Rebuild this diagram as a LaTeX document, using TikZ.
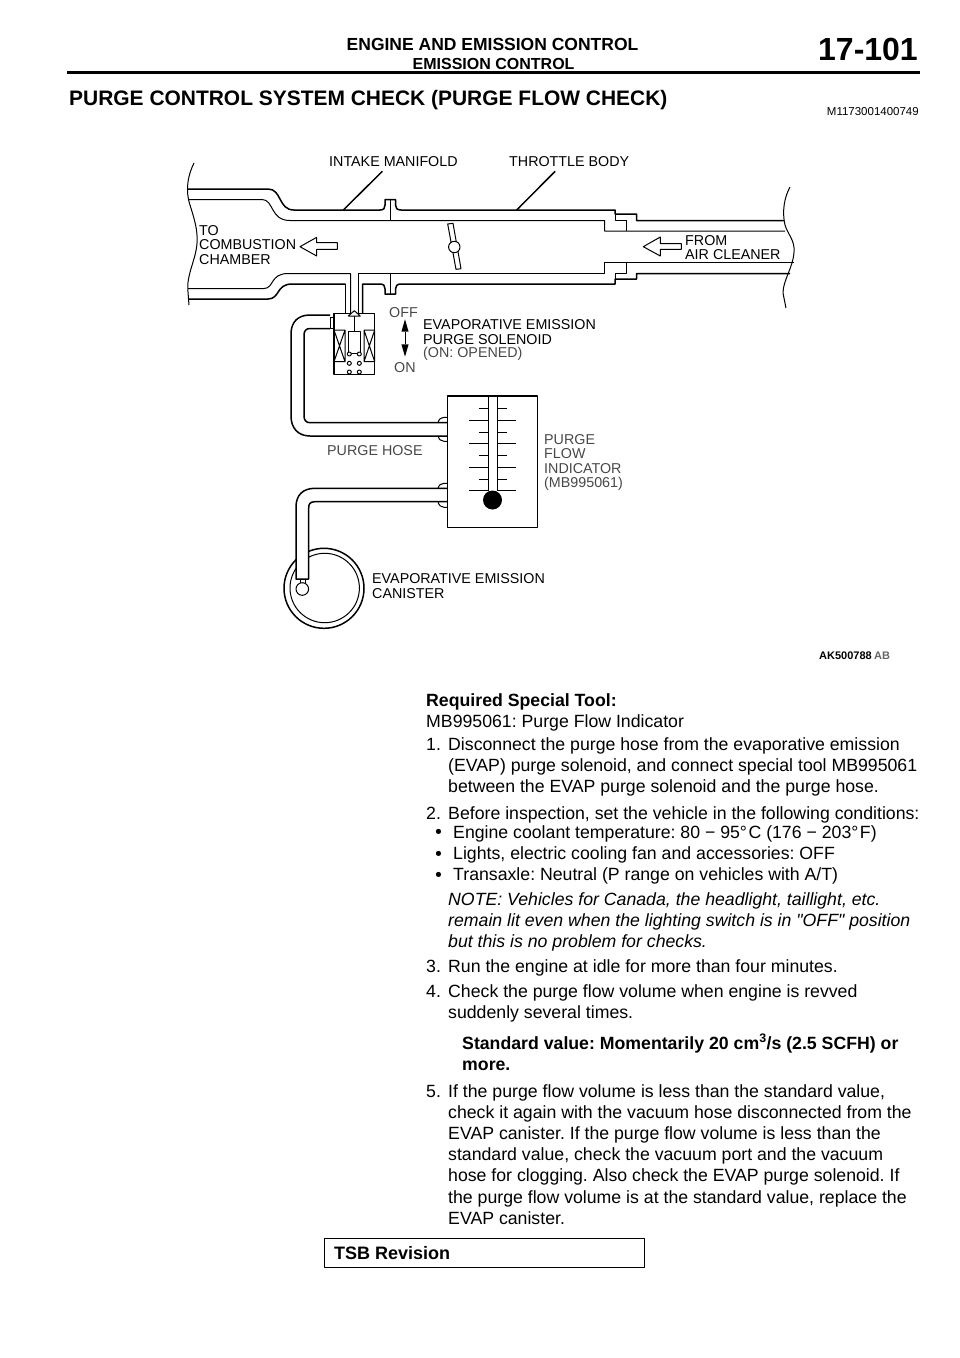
\documentclass[tikz,border=0pt]{standalone}
\usepackage{fontspec}
\setmainfont{Liberation Sans}[Ligatures=TeXOff]
\newfontfamily\dotfont{DejaVu Sans}
\usepackage{tikz}
\usetikzlibrary{calc}
\frenchspacing
\tikzset{pipe/.style={line width=1.5pt,line join=round}}
\tikzset{wall/.style={line width=1pt,line join=round}}
\tikzset{part label/.style={anchor=west,inner sep=0,align=left,font=\fontsize{14.3}{14.5}\selectfont}}
\tikzset{grey label/.style={part label,text=black!72}}
\tikzset{body/.style={anchor=north west,inner sep=0,align=left,font=\fontsize{17.7}{21.2}\selectfont,execute at begin node=\strut}}
\tikzset{head/.style={anchor=west,inner sep=0,font=\bfseries\fontsize{17.5}{20}\selectfont}}
\tikzset{dot/.style={anchor=base,inner sep=0,font=\dotfont\fontsize{17.7}{18}\selectfont}}

\begin{document}
\begin{tikzpicture}[x=1pt,y=-1pt]
        \useasboundingbox (0,0) rectangle (960,1358);

          %page head
          \node[head] (head) at (346.5,44) {ENGINE AND EMISSION CONTROL};
          \node[head,font=\bfseries\fontsize{16}{18}\selectfont] (subhead) at (412.5,63.5) {EMISSION CONTROL};
          \node[anchor=east,inner sep=0,font=\bfseries\fontsize{32}{34}\selectfont] (pageno) at (918,49) {17-101};
          \draw[line width=3pt] (67,72) -- (920,72);
          \node[anchor=west,inner sep=0,font=\bfseries\fontsize{20.95}{22}\selectfont] (title) at (69,100) {PURGE CONTROL SYSTEM CHECK (PURGE FLOW CHECK)};
          \node[anchor=east,inner sep=0,font=\fontsize{11.5}{12}\selectfont] (refno) at (919,112) {M1173001400749};

          %break lines
          \draw[wall] (194,163) .. controls (188,175) and (185,190) .. (190,205) .. controls (194,218) and (198,230) .. (197,243) .. controls (196,260) and (186,275) .. (188,292) -- (189,305);
          \draw[wall] (790,187) .. controls (784,198) and (782,212) .. (785,225) .. controls (788,235) and (795,240) .. (794,252) .. controls (793,268) and (783,280) .. (783,293) -- (786,308);

          %manifold and throttle body, top
          \draw[pipe] (188,189) -- (268,189) .. controls (282,189) and (278,210) .. (294,210) -- (380,210) .. controls (384,210) and (385,208) .. (385,205) -- (385,199.5) -- (395.5,199.5) -- (395.5,205) .. controls (395.5,208) and (397,210) .. (401,210) -- (615,210) -- (615,214) -- (636.5,214) -- (636.5,220.5) -- (784,220.5);
          \draw[wall] (188,199.5) -- (262,199.5) .. controls (274,199.5) and (270,220.5) .. (290,220.5) -- (604.5,220.5) -- (604.5,231) -- (785,231);
          \draw[wall] (390,199.5) -- (390,220.5);
          \draw[wall] (615,210) -- (615,220.5) -- (626,220.5) -- (626,231);

          %manifold and throttle body, bottom
          \draw[pipe] (188,299) -- (268,299) .. controls (280,299) and (276,284) .. (292,284) -- (345.5,284);
          \draw[wall] (188,288.5) -- (264,288.5) .. controls (274,288.5) and (270,273.5) .. (288,273.5) -- (350.5,273.5) -- (350.5,313.5);
          \draw[pipe] (362.5,313.5) -- (362.5,284) -- (380,284) .. controls (384,284) and (385,286) .. (385,289) -- (385,294) -- (395.5,294) -- (395.5,289) .. controls (395.5,286) and (397,284) .. (401,284) -- (615,284) -- (615,279) -- (636.5,279) -- (636.5,273.5) -- (790,273.5);
          \draw[pipe] (345.5,284) -- (345.5,313.5);
          \draw[wall] (358,313.5) -- (358,273.5) -- (604.5,273.5) -- (604.5,262.7) -- (794,262.7);
          \draw[wall] (390,273.5) -- (390,294);
          \draw[wall] (615,279) -- (615,273.5) -- (626,273.5) -- (626,262.7);

          %throttle valve
          \draw[wall,fill=white] (447.7,224) -- (453,223.3) -- (461,268.7) -- (456,269.3) -- cycle;
          \draw[wall,fill=white] (454.3,247) circle (5.7);

          %flow arrows
          \draw[wall] (300,246.7) -- (316.7,237.3) -- (316.7,242.7) -- (337.3,242.7) -- (337.3,249.3) -- (316.7,249.3) -- (316.7,256) -- cycle;
          \draw[wall] (643.3,246.7) -- (660.3,237) -- (660.3,243.7) -- (681.3,243.7) -- (681.3,249.3) -- (660.3,249.3) -- (660.3,256) -- cycle;

          %solenoid
          \draw[pipe] (334,313.5) rectangle (374.7,374.5);
          \draw[wall] (334,330) rectangle (345,361.7) (334,330) -- (345,361.7) (345,330) -- (334,361.7);
          \draw[wall] (364,330) rectangle (374.7,361.7) (364,330) -- (374.7,361.7) (374.7,330) -- (364,361.7);
          \draw[wall] (348.3,331.7) rectangle (360.7,353.3);
          \draw[wall] (354.3,316) -- (354.3,331.7);
          \draw[wall,fill=white] (348.3,316) -- (354.3,310.7) -- (360.3,316) -- cycle;
          \foreach \ypos in {354,363.3,372} {
            \draw[wall,fill=white] (349.3,\ypos) circle (2);
            \draw[wall,fill=white] (359.3,\ypos) circle (2);
          }

          %ON-OFF arrow
          \fill (405,319.3) -- (408.6,331.7) -- (401.4,331.7) -- cycle;
          \fill (405,356.7) -- (408.6,344.3) -- (401.4,344.3) -- cycle;
          \draw[wall] (405,331.7) -- (405,344.3);

          %purge hose
          \draw[wall] (334,317) -- (330,317) -- (330,328.5) -- (334,328.5);
          \draw[pipe] (330,315) -- (310,315) .. controls (298,315) and (291,322) .. (291,334) -- (291,416) .. controls (291,428) and (298,436) .. (310,436) -- (447.3,436);
          \draw[pipe] (330,328.5) -- (310,328.5) .. controls (306,328.5) and (304,331) .. (304,335) -- (304,416) .. controls (304,420) and (306,422.7) .. (310,422.7) -- (447.3,422.7);

          %purge flow indicator
          \draw[wall] (438,422.7) .. controls (439,419) and (441,417.3) .. (444,417.3) -- (447.3,417.3);
          \draw[wall] (438,436) .. controls (439,439.5) and (441,441.3) .. (444,441.3) -- (447.3,441.3);
          \draw[wall] (438,488.3) .. controls (439,485) and (441,483.3) .. (444,483.3) -- (447.3,483.3);
          \draw[wall] (438,501.7) .. controls (439,505.5) and (441,507.3) .. (444,507.3) -- (447.3,507.3);
          \draw[pipe] (447.3,396) rectangle (537.7,527.3);
          \draw[wall] (488.3,396) -- (488.3,491) (497,396) -- (497,491);
          \foreach \ypos in {420,443.3,467.3,490.7} {
            \draw[wall] (469.3,\ypos) -- (488.3,\ypos) (497,\ypos) -- (515.7,\ypos);
          }
          \foreach \ypos in {408.3,432,455.3,479} {
            \draw[wall] (478.7,\ypos) -- (488.3,\ypos) (497,\ypos) -- (506.7,\ypos);
          }
          \fill (492.5,500) circle (9.5);

          %canister
          \draw[pipe] (324,588.3) circle (40);
          \draw[wall] (324.7,588) circle (34.7);
          \draw[wall] (300,579) -- (300,584) (305,579) -- (305,584);
          \draw[wall,fill=white] (302.3,589) circle (6.3);
          \fill[white] (296,510) rectangle (308.7,579);
          \draw[pipe] (447.3,488.3) -- (315,488.3) .. controls (303,488.3) and (296,495) .. (296,507) -- (296,579) -- (308.7,579) -- (308.7,508) .. controls (308.7,504) and (310,501.7) .. (315,501.7) -- (447.3,501.7);

          %labels
          \node[part label] (manifold) at (329,162) {INTAKE MANIFOLD};
          \node[part label] (throttle) at (509,162) {THROTTLE BODY};
          \draw[pipe] ([xshift=-11pt,yshift=-4pt]manifold.south) -- (343.3,210);
          \draw[pipe] ([xshift=-14pt,yshift=-4pt]throttle.south) -- (516.7,210);
          \node[part label] (combustion) at (199,245) {TO\\COMBUSTION\\CHAMBER};
          \node[part label] (cleaner) at (685,247.5) {FROM\\AIR CLEANER};
          \node[grey label] (off) at (389,313) {OFF};
          \node[grey label] (on) at (394,368) {ON};
          \node[part label] (solenoid) at (423,332) {EVAPORATIVE EMISSION\\PURGE SOLENOID};
          \node[grey label] (opened) at (423,354) {(ON: OPENED)};
          \node[grey label] (hose) at (327,451) {PURGE HOSE};
          \node[grey label] (indicator) at (544,462.5) {PURGE\\FLOW\\INDICATOR\\(MB995061)};
          \node[part label] (canister) at (372,586) {EVAPORATIVE EMISSION\\CANISTER};
          \node[anchor=west,inner sep=0,font=\bfseries\fontsize{11}{12}\selectfont] (akno) at (819,656) {AK500788};
          \node[anchor=west,inner sep=0,text=black!60,font=\bfseries\fontsize{11}{12}\selectfont] (abno) at (874,656) {AB};

          %text
          \node[body] (tool) at (426,693) {\textbf{Required Special Tool:}\\MB995061: Purge Flow Indicator};
          \node[body] (num1) at (426,735) {1.};
          \node[body] (step1) at (448,737) {Disconnect the purge hose from the evaporative emission\\(EVAP) purge solenoid, and connect special tool MB995061\\between the EVAP purge solenoid and the purge hose.};
          \node[body] (num2) at (426,804) {2.};
          \node[body] (step2) at (448,804) {Before inspection, set the vehicle in the following conditions:};
          \node[dot] (dot1) at (438.5,838.8) {•};
          \node[body] (cond1) at (453,823) {Engine coolant temperature: 80 − 95°\kern1.5pt C (176 − 203°\kern1.5pt F)};
          \node[dot] (dot2) at (438.5,860) {•};
          \node[body] (cond2) at (453,844) {Lights, electric cooling fan and accessories: OFF};
          \node[dot] (dot3) at (438.5,881) {•};
          \node[body] (cond3) at (453,865) {Transaxle: Neutral (P range on vehicles with A/T)};
          \node[body,font=\itshape\fontsize{17.7}{21.2}\selectfont] (note) at (448,892) {NOTE: Vehicles for Canada, the headlight, taillight, etc.\\remain lit even when the lighting switch is in "OFF" position\\but this is no problem for checks.};
          \node[body] (num3) at (426,957) {3.};
          \node[body] (step3) at (448,957) {Run the engine at idle for more than four minutes.};
          \node[body] (num4) at (426,982) {4.};
          \node[body] (step4) at (448,984) {Check the purge flow volume when engine is revved\\suddenly several times.};
          \node[body,font=\bfseries\fontsize{17.7}{21.2}\selectfont] (value) at (462,1034) {Standard value: Momentarily 20 cm\textsuperscript{3}/s (2.5 SCFH) or\\more.};
          \node[body] (num5) at (426,1082) {5.};
          \node[body] (step5) at (448,1084) {If the purge flow volume is less than the standard value,\\check it again with the vacuum hose disconnected from the\\EVAP canister. If the purge flow volume is less than the\\standard value, check the vacuum port and the vacuum\\hose for clogging. Also check the EVAP purge solenoid. If\\the purge flow volume is at the standard value, replace the\\EVAP canister.};

          %revision box
          \draw[wall] (324.5,1238.5) rectangle (644.5,1267.5);
          \node[head,font=\bfseries\fontsize{18}{20}\selectfont] (tsb) at (334,1253) {TSB Revision};

\end{tikzpicture}
\end{document}
